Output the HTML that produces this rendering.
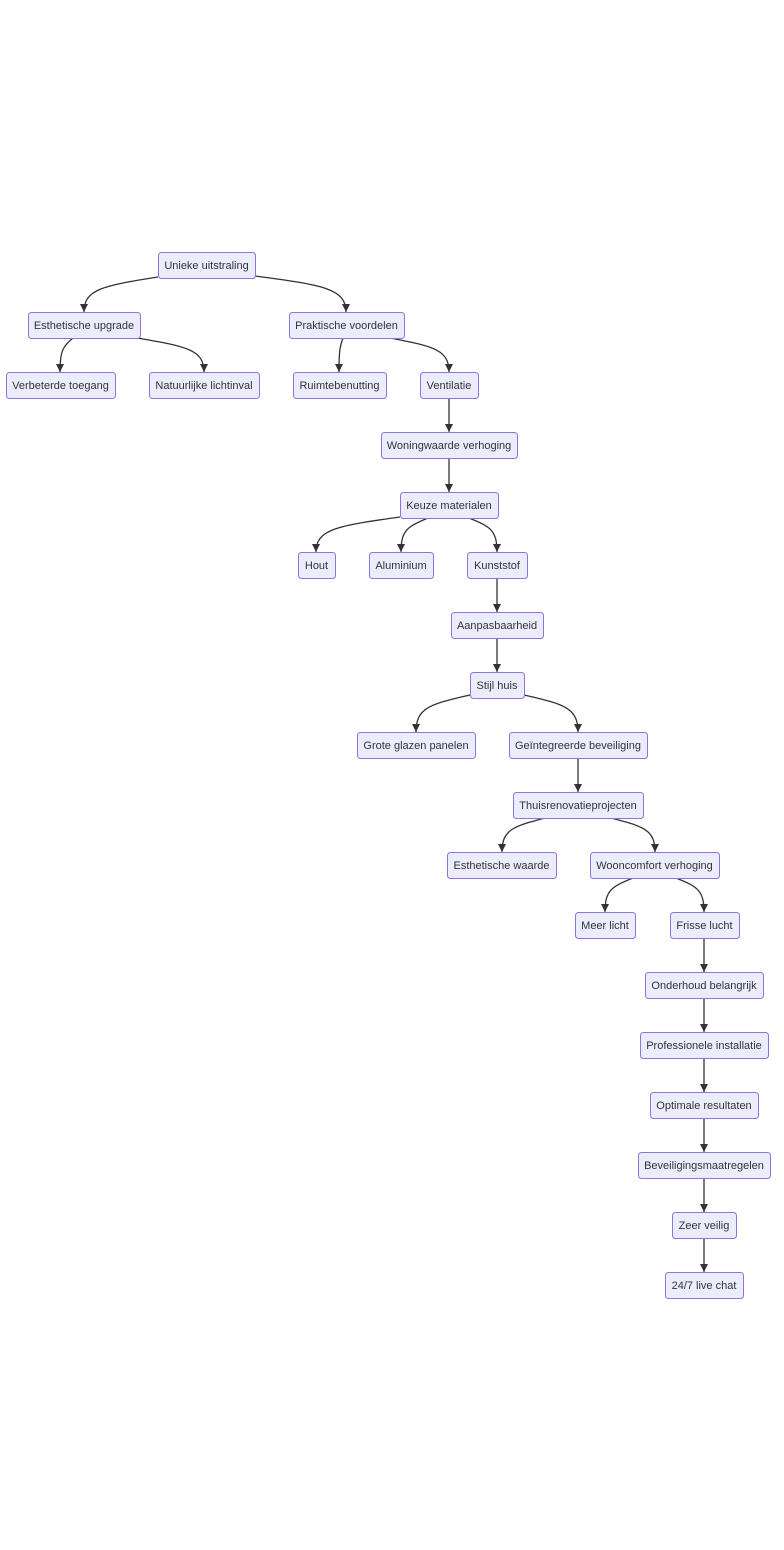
<!DOCTYPE html>
<html><head><meta charset="utf-8"><style>
html,body{margin:0;padding:0;background:#fff;}
svg{display:block}
text{font-family:"Liberation Sans",Arial,sans-serif;font-size:11px;fill:#333;text-anchor:middle}
rect{fill:#ECECFF;stroke:#9370DB;stroke-width:1}
path{fill:none;stroke:#333;stroke-width:1.3}
</style></head><body>
<svg width="784" height="1550" viewBox="0 0 784 1550" xmlns="http://www.w3.org/2000/svg">
<defs><marker id="a" viewBox="0 0 10 10" refX="10" refY="5" markerWidth="8" markerHeight="8" markerUnits="userSpaceOnUse" orient="auto"><path d="M0,0L10,5L0,10z" style="fill:#333;stroke:none"/></marker></defs>
<g id="edges"></g>
<g id="nodes"></g>
<script>
var N=[["Unieke uitstraling",158,255,265],["Esthetische upgrade",28,140,325],["Praktische voordelen",289,404,325],["Verbeterde toegang",6,115,385],["Natuurlijke lichtinval",149,259,385],["Ruimtebenutting",293,386,385],["Ventilatie",420,478,385],["Woningwaarde verhoging",381,517,445],["Keuze materialen",400,498,505],["Hout",298,335,565],["Aluminium",369,433,565],["Kunststof",467,527,565],["Aanpasbaarheid",451,543,625],["Stijl huis",470,524,685],["Grote glazen panelen",357,475,745],["Geïntegreerde beveiliging",509,647,745],["Thuisrenovatieprojecten",513,643,805],["Esthetische waarde",447,556,865],["Wooncomfort verhoging",590,719,865],["Meer licht",575,635,925],["Frisse lucht",670,739,925],["Onderhoud belangrijk",645,763,985],["Professionele installatie",640,768,1045],["Optimale resultaten",650,758,1105],["Beveiligingsmaatregelen",638,770,1165],["Zeer veilig",672,736,1225],["24/7 live chat",665,743,1285]];
var E=[[158,277,84,312],[255,276,346,312],[73,338,60,372],[137,338,204,372],[343,338,339,372],[390,338,449,372],[449,398,449,432],[449,458,449,492],[400,517,316,552],[428,518,401,552],[469,518,497,552],[497,578,497,612],[497,638,497,672],[470,695,416,732],[524,695,578,732],[578,758,578,792],[545,818,502,852],[611,818,655,852],[633,878,605,912],[676,878,704,912],[704,938,704,972],[704,998,704,1032],[704,1058,704,1092],[704,1118,704,1152],[704,1178,704,1212],[704,1238,704,1272]];
var ns="http://www.w3.org/2000/svg",ge=document.getElementById("edges"),gn=document.getElementById("nodes");
E.forEach(function(e){var p=document.createElementNS(ns,"path");var d;
if(e[0]==e[2])d="M"+e[0]+","+e[1]+"L"+e[2]+","+e[3];
else{var h=e[3]-e[1];d="M"+e[0]+","+e[1]+"C"+(e[0]+(e[2]-e[0])*0.75)+","+(e[1]+h*0.25)+" "+e[2]+","+(e[1]+h*0.35)+" "+e[2]+","+e[3];}
p.setAttribute("d",d);p.setAttribute("marker-end","url(#a)");ge.appendChild(p);});
N.forEach(function(n){var r=document.createElementNS(ns,"rect");r.setAttribute("x",n[1]+.5);r.setAttribute("y",n[3]-12.5);r.setAttribute("width",n[2]-n[1]);r.setAttribute("height",26);r.setAttribute("rx",3);gn.appendChild(r);
var t=document.createElementNS(ns,"text");t.setAttribute("x",(n[1]+n[2])/2);t.setAttribute("y",n[3]+4);t.textContent=n[0];gn.appendChild(t);});
</script>
</svg>
</body></html>
